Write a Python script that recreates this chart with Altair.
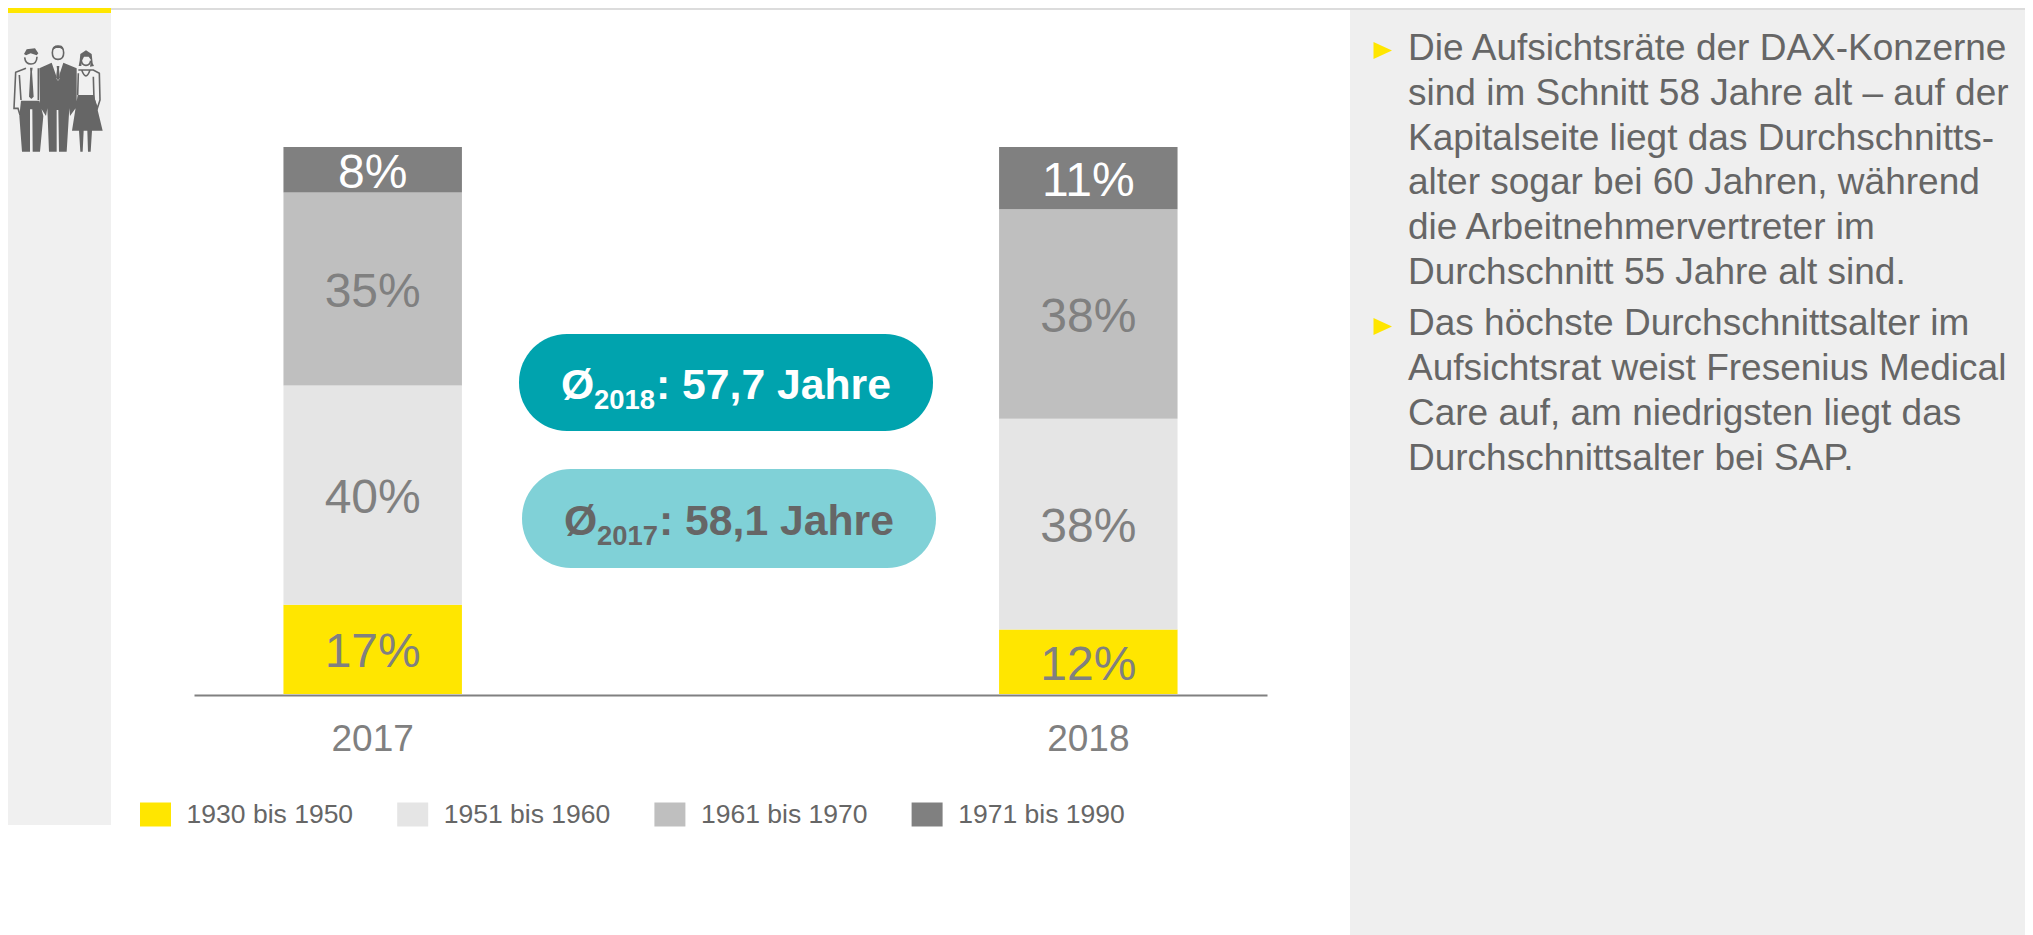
import altair as alt
import pandas as pd

years = ["2017", "2018"]
cohorts = ["1930 bis 1950", "1951 bis 1960", "1961 bis 1970", "1971 bis 1990"]
colors = ["#FFE600", "#E5E5E5", "#BFBFBF", "#808080"]
share_2017 = [16.3, 40.1, 35.3, 8.3]
share_2018 = [11.8, 38.5, 38.3, 11.4]
label_2017 = ["17%", "40%", "35%", "8%"]
label_2018 = ["12%", "38%", "38%", "11%"]
para_1 = ["Die Aufsichtsräte der DAX-Konzerne", "sind im Schnitt 58 Jahre alt – auf der",
          "Kapitalseite liegt das Durchschnitts-", "alter sogar bei 60 Jahren, während",
          "die Arbeitnehmervertreter im", "Durchschnitt 55 Jahre alt sind."]
para_2 = ["Das höchste Durchschnittsalter im", "Aufsichtsrat weist Fresenius Medical",
          "Care auf, am niedrigsten liegt das", "Durchschnittsalter bei SAP."]

FONT = "Liberation Sans"
OX, OY = 8, 8  # page margin

rows = []
for year, shares, labels in [("2017", share_2017, label_2017), ("2018", share_2018, label_2018)]:
    base = 0.0
    for cohort, share, label in zip(cohorts, shares, labels):
        rows.append(dict(year=year, cohort=cohort, start=base, end=base + share,
                         mid=base + share / 2, label=label))
        base += share
df = pd.DataFrame(rows)

one = alt.Data(values=[{"k": 1}])

def box(x0, x1, y0, y1, color, radius=0):
    return alt.Chart(one).mark_rect(color=color, cornerRadius=radius, opacity=1).encode(
        x=alt.value(x0 - OX), x2=alt.value(x1 - OX), y=alt.value(y0 - OY), y2=alt.value(y1 - OY))

def txt(s, x, y, size, color, bold=False, align="left"):
    return alt.Chart(alt.Data(values=[{"t": s}])).mark_text(
        font=FONT, fontSize=size, color=color, align=align, baseline="alphabetic",
        fontWeight="bold" if bold else "normal").encode(
        text="t:N", x=alt.value(x - OX), y=alt.value(y - OY))

def shape(path, ox, oy, scale, fill=None, stroke=None, sw=1):
    kw = dict(shape=path, size=(2 * scale) ** 2, opacity=1)
    if fill:
        kw.update(filled=True, fill=fill, strokeWidth=0)
    else:
        kw.update(filled=False, fill=None, stroke=stroke, strokeWidth=sw)
    return alt.Chart(one).mark_point(**kw).encode(x=alt.value(ox - OX), y=alt.value(oy - OY))

x_scale = alt.Scale(domain=years, range=[186, 1259], paddingInner=0.7506, paddingOuter=0.125)
y_scale = alt.Scale(domain=[0, 100], range=[686, 139])
x_enc = alt.X("year:N", scale=x_scale, title=None,
              axis=alt.Axis(orient="bottom", offset=-240, domainColor="#808080", domainWidth=2, ticks=False,
                            grid=False, labelAngle=0, labelFont=FONT, labelFontSize=37, labelColor="#808080",
                            labelPadding=26))

bars = alt.Chart(df).mark_bar(opacity=1).encode(
    x=x_enc,
    y=alt.Y("start:Q", scale=y_scale, axis=None, title=None),
    y2="end:Q",
    color=alt.Color("cohort:N", scale=alt.Scale(domain=cohorts, range=colors),
                    legend=alt.Legend(orient="none", legendX=132, legendY=791, direction="horizontal", columns=4,
                                      title=None, symbolType="M-1,-0.774H1V0.774H-1Z", symbolSize=961,
                                      symbolStrokeWidth=0, symbolOpacity=1, labelFont=FONT, labelFontSize=26.5,
                                      labelColor="#666666", labelLimit=400, labelOffset=15.6, columnPadding=43.2,
                                      padding=0)),
)
bar_text = alt.Chart(df).mark_text(font=FONT, fontSize=48, baseline="middle", align="center", dy=4).encode(
    x=alt.X("year:N", scale=x_scale),
    y=alt.Y("mid:Q", scale=y_scale),
    text="label:N",
    color=alt.condition(alt.datum.cohort == cohorts[3], alt.value("#FFFFFF"), alt.value("#808080")),
)

# icon, drawn in a 3x local grid
ICON_FILL = ("M88,85L125,68L143,120L160,68L200,85L200,200L180,228L178,205L170,335L147,335L145,210L140,210L140,335L117,335"
             "L112,205L108,228L90,200Z"
             "M33,182L88,182L100,228L90,335L68,335L67,208L60,208L60,335L36,335L28,228Z"
             "M203,165L252,165L278,272L186,272Z"
             "M207,272L221,272L218,335L211,335Z M232,272L246,272L242,335L234,335Z"
             "M60,83L68,83L66,95L71,170L64,177L57,170L61,95Z"
             "M42,42L50,28L75,25L85,40L80,46L62,40L48,46Z"
             "M128,30L135,17L155,17L161,30L150,24L138,24Z"
             "M209,62L211,42L228,31L245,42L248,70L252,78L240,80L243,60L236,50L222,50L216,62L214,78L206,78Z")
ICON_TIE = "M139,72L149,72L147,85L150,115L144,122L138,115L141,85Z"
ICON_LINE = ("M48,85L17,97L12,205L24,205L30,225 M28,105L33,180 M85,85L85,180"
             "M205,90L250,90L268,100L270,180L262,205L252,178M250,110L252,178M205,100L203,165"
             "M215,90Q228,125 240,90"
             "M44,52Q46,72 63,72Q80,72 81,50 M127,38Q127,58 144,58Q161,58 161,38Q161,18 144,18Q127,18 127,38Z"
             "M214,62Q216,76 228,76Q240,76 242,62")

layers = [
    box(OX, 2033, 8, 10, "#DCDCDC"),
    box(OX, 111, 8, 825, "#F0F0F0"),
    box(OX, 111, 8, 13, "#FFE600"),
    box(1350, 2033, 10, 943, "#EFEFEF"),
    shape(ICON_FILL, 10, 40, 1 / 3, fill="#666666"),
    shape(ICON_TIE, 10, 40, 1 / 3, fill="#F0F0F0"),
    shape("M140,78L148,78L147,88L150,114L144,121L138,114L141,88Z", 10, 40, 1 / 3, fill="#666666"),
    shape(ICON_LINE, 10, 40, 1 / 3, stroke="#666666", sw=1.6),
    bars,
    bar_text,
    box(519, 933, 334, 431, "#00A3AE", 48),
    box(522, 936, 469, 568, "#80D1D7", 49),
    txt("Ø", 561, 399, 42.7, "#FFFFFF", True),
    txt("2018", 594, 409, 27.4, "#FFFFFF", True),
    txt(": 57,7 Jahre", 656, 399, 42.7, "#FFFFFF", True),
    txt("Ø", 564, 535, 42.7, "#666666", True),
    txt("2017", 597, 545, 27.4, "#666666", True),
    txt(": 58,1 Jahre", 659, 535, 42.7, "#666666", True),
    shape("M0,0L18.5,8.5L0,17Z", 1373.5, 42, 1, fill="#FFE600"),
    shape("M0,0L18.5,8.5L0,17Z", 1373.5, 318, 1, fill="#FFE600"),
]
for i, line in enumerate(para_1):
    layers.append(txt(line, 1408, 60 + 44.8 * i, 37, "#666666"))
for i, line in enumerate(para_2):
    layers.append(txt(line, 1408, 335 + 45 * i, 37, "#666666"))

chart = alt.layer(*layers).properties(
    width=2017, height=927, padding=0,
    autosize=alt.AutoSizeParams(type="none"), background="#FFFFFF",
).configure_view(stroke=None)

chart.save("out.html", embed_options={"renderer": "svg", "actions": False})
